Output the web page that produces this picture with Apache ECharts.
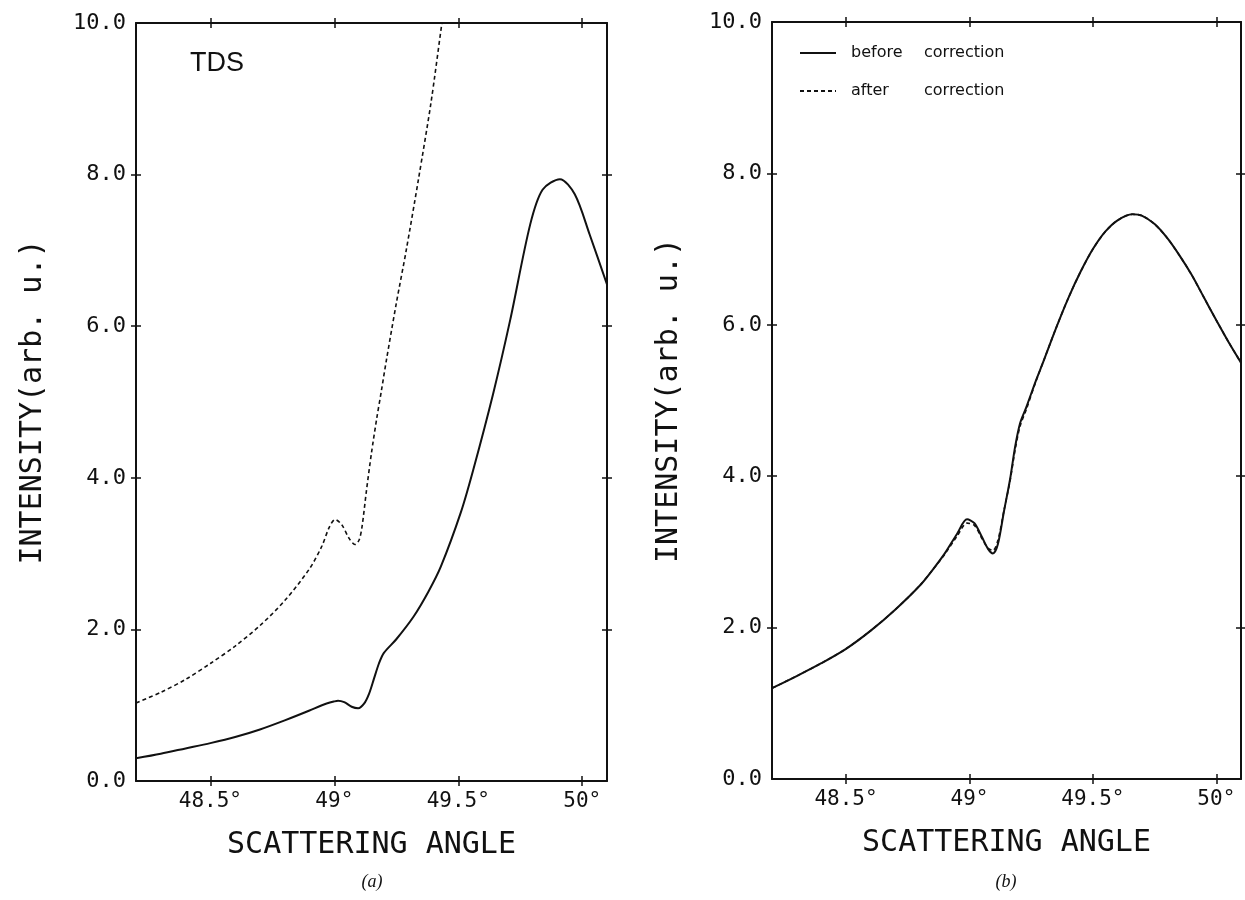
<!DOCTYPE html>
<html>
<head>
<meta charset="utf-8">
<script src="https://cdn.jsdelivr.net/npm/echarts@6/dist/echarts.min.js"></script>
<style>html,body{margin:0;padding:0;background:#fff}#c{width:1245px;height:900px}</style>
</head>
<body>
<div id="c"></div>
<script>
// ---- data ----
const xTicks = [48.5, 49, 49.5, 50];
const yTicks = [2, 4, 6, 8];

// panel (a)
const leftSolidAngles = [48.2, 48.3, 48.4, 48.5, 48.6, 48.7, 48.8, 48.9, 48.95, 49.0, 49.015, 49.04, 49.07, 49.096, 49.12, 49.14, 49.16, 49.18, 49.2, 49.25, 49.32, 49.38, 49.43, 49.51, 49.56, 49.64, 49.71, 49.79, 49.84, 49.91, 49.97, 50.03, 50.1];
const leftSolidValues = [0.30, 0.36, 0.43, 0.50, 0.58, 0.68, 0.80, 0.93, 1.00, 1.05, 1.06, 1.04, 0.98, 0.96, 1.02, 1.15, 1.35, 1.55, 1.69, 1.87, 2.17, 2.50, 2.83, 3.54, 4.10, 5.10, 6.09, 7.34, 7.80, 7.94, 7.74, 7.21, 6.55];

const leftDashedAngles = [48.2, 48.3, 48.4, 48.5, 48.6, 48.7, 48.8, 48.9, 48.95, 48.98, 49.003, 49.03, 49.06, 49.083, 49.1, 49.112, 49.13, 49.15, 49.17, 49.19, 49.21, 49.25, 49.29, 49.34, 49.39, 49.434, 49.46];
const leftDashedValues = [1.03, 1.17, 1.34, 1.55, 1.78, 2.05, 2.38, 2.80, 3.10, 3.35, 3.45, 3.38, 3.20, 3.12, 3.18, 3.36, 3.84, 4.33, 4.76, 5.15, 5.55, 6.30, 7.00, 7.95, 8.95, 10.0, 10.6];

// panel (b)
const rightAngles = [48.2, 48.3, 48.4, 48.5, 48.6, 48.7, 48.8, 48.85, 48.9, 48.95, 48.99, 49.02, 49.05, 49.075, 49.095, 49.115, 49.14, 49.165, 49.185, 49.205, 49.23, 49.27, 49.3, 49.35, 49.4, 49.45, 49.5, 49.55, 49.6, 49.66, 49.7, 49.75, 49.8, 49.85, 49.9, 49.95, 50.0, 50.05, 50.1];
const beforeValues = [1.20, 1.36, 1.53, 1.72, 1.96, 2.24, 2.56, 2.76, 2.98, 3.24, 3.43, 3.38, 3.20, 3.04, 2.98, 3.10, 3.54, 3.97, 4.39, 4.70, 4.91, 5.27, 5.52, 5.95, 6.35, 6.70, 7.00, 7.23, 7.38, 7.46, 7.44, 7.33, 7.15, 6.92, 6.66, 6.36, 6.06, 5.77, 5.50];
const afterValues  = [1.20, 1.36, 1.53, 1.72, 1.96, 2.24, 2.56, 2.76, 2.97, 3.21, 3.38, 3.35, 3.18, 3.05, 3.02, 3.15, 3.55, 3.95, 4.35, 4.66, 4.88, 5.26, 5.52, 5.95, 6.35, 6.70, 7.00, 7.23, 7.38, 7.46, 7.44, 7.33, 7.15, 6.92, 6.66, 6.36, 6.06, 5.77, 5.50];

const legendNames = ['before correction', 'after correction'];

// ---- chart ----
const MONO = 'DejaVu Sans Mono';
const INK = '#111';
const zip = (a, b) => a.map((v, i) => [v, b[i]]);

function xAxes(g, name) {
  const base = {
    type: 'value', gridIndex: g, min: 48.2, max: 50.1,
    splitLine: { show: false }
  };
  const tick = (inside) => ({ show: true, customValues: xTicks, inside: inside, length: 5, lineStyle: { color: INK, width: 1.5 } });
  const line = (show) => ({ show: show, onZero: false, lineStyle: { color: INK, width: 2 } });
  return [
    Object.assign({}, base, {
      position: 'bottom',
      axisLine: line(true),
      axisTick: tick(false),
      axisLabel: { show: true, customValues: xTicks, formatter: v => v + '°', margin: 10, fontFamily: MONO, fontSize: 21, color: INK },
      name: name, nameLocation: 'middle', nameGap: 49,
      nameTextStyle: { fontFamily: MONO, fontSize: 30, color: INK }
    }),
    Object.assign({}, base, { position: 'bottom', axisLine: line(false), axisTick: tick(true), axisLabel: { show: false } }),
    Object.assign({}, base, { position: 'top', axisLine: line(true), axisTick: tick(false), axisLabel: { show: false } }),
    Object.assign({}, base, { position: 'top', axisLine: line(false), axisTick: tick(true), axisLabel: { show: false } })
  ];
}

function yAxes(g, name) {
  const base = {
    type: 'value', gridIndex: g, min: 0, max: 10, interval: 2,
    splitLine: { show: false }
  };
  const tick = (inside) => ({ show: true, customValues: yTicks, inside: inside, length: 5, lineStyle: { color: INK, width: 1.5 } });
  const line = (show) => ({ show: show, onZero: false, lineStyle: { color: INK, width: 2 } });
  return [
    Object.assign({}, base, {
      position: 'left',
      axisLine: line(true),
      axisTick: tick(false),
      axisLabel: { show: true, formatter: v => v.toFixed(1), margin: 10, fontFamily: MONO, fontSize: 22, color: INK },
      name: name, nameLocation: 'middle', nameGap: 88,
      nameTextStyle: { fontFamily: MONO, fontSize: 30, color: INK }
    }),
    Object.assign({}, base, { position: 'left', axisLine: line(false), axisTick: tick(true), axisLabel: { show: false } }),
    Object.assign({}, base, { position: 'right', axisLine: line(true), axisTick: tick(false), axisLabel: { show: false } }),
    Object.assign({}, base, { position: 'right', axisLine: line(false), axisTick: tick(true), axisLabel: { show: false } })
  ];
}

const solid = { color: INK, width: 2 };
const dashed = { color: INK, width: 1.6, type: [4, 3] };

const option = {
  backgroundColor: '#fff',
  animation: false,
  grid: [
    { left: 136, top: 23, width: 471, height: 758 },
    { left: 772, top: 22, width: 469, height: 757 }
  ],
  xAxis: xAxes(0, 'SCATTERING ANGLE').concat(xAxes(1, 'SCATTERING ANGLE')),
  yAxis: yAxes(0, 'INTENSITY(arb. u.)').concat(yAxes(1, 'INTENSITY(arb. u.)')),
  legend: {
    data: legendNames,
    orient: 'vertical', left: 794, top: 40,
    itemWidth: 36, itemHeight: 12, itemGap: 22,
    itemStyle: { opacity: 0 },
    formatter: n => { const p = n.split(' '); return '{a|' + p[0] + '}{b|' + p[1] + '}'; },
    textStyle: {
      color: INK, fontFamily: 'DejaVu Sans', fontSize: 16,
      rich: {
        a: { width: 73, padding: [0, 0, 0, 10], fontFamily: 'DejaVu Sans', fontSize: 16, color: INK },
        b: { fontFamily: 'DejaVu Sans', fontSize: 16, color: INK }
      }
    }
  },
  series: [
    { name: 'TDS solid', type: 'line', xAxisIndex: 0, yAxisIndex: 0, data: zip(leftSolidAngles, leftSolidValues), symbol: 'none', smooth: 0.3, lineStyle: solid },
    { name: 'TDS dashed', type: 'line', xAxisIndex: 0, yAxisIndex: 0, data: zip(leftDashedAngles, leftDashedValues), symbol: 'none', smooth: 0.3, lineStyle: dashed },
    { name: legendNames[0], type: 'line', xAxisIndex: 4, yAxisIndex: 4, data: zip(rightAngles, beforeValues), symbol: 'none', smooth: 0.3, lineStyle: solid, itemStyle: { color: INK } },
    { name: legendNames[1], type: 'line', xAxisIndex: 4, yAxisIndex: 4, data: zip(rightAngles, afterValues), symbol: 'none', smooth: 0.3, lineStyle: dashed, itemStyle: { color: INK } }
  ],
  graphic: [
    { type: 'text', x: 190, y: 64, style: { text: 'TDS', textVerticalAlign: 'middle', font: '27px "Liberation Sans"', fill: INK } },
    { type: 'text', x: 372, y: 882, style: { text: '(a)', textAlign: 'center', textVerticalAlign: 'middle', font: 'italic 18px "Liberation Serif"', fill: INK } },
    { type: 'text', x: 1006, y: 882, style: { text: '(b)', textAlign: 'center', textVerticalAlign: 'middle', font: 'italic 18px "Liberation Serif"', fill: INK } }
  ]
};

const chart = echarts.init(document.getElementById('c'), null, { renderer: 'canvas' });
chart.setOption(option);
</script>
</body>
</html>
